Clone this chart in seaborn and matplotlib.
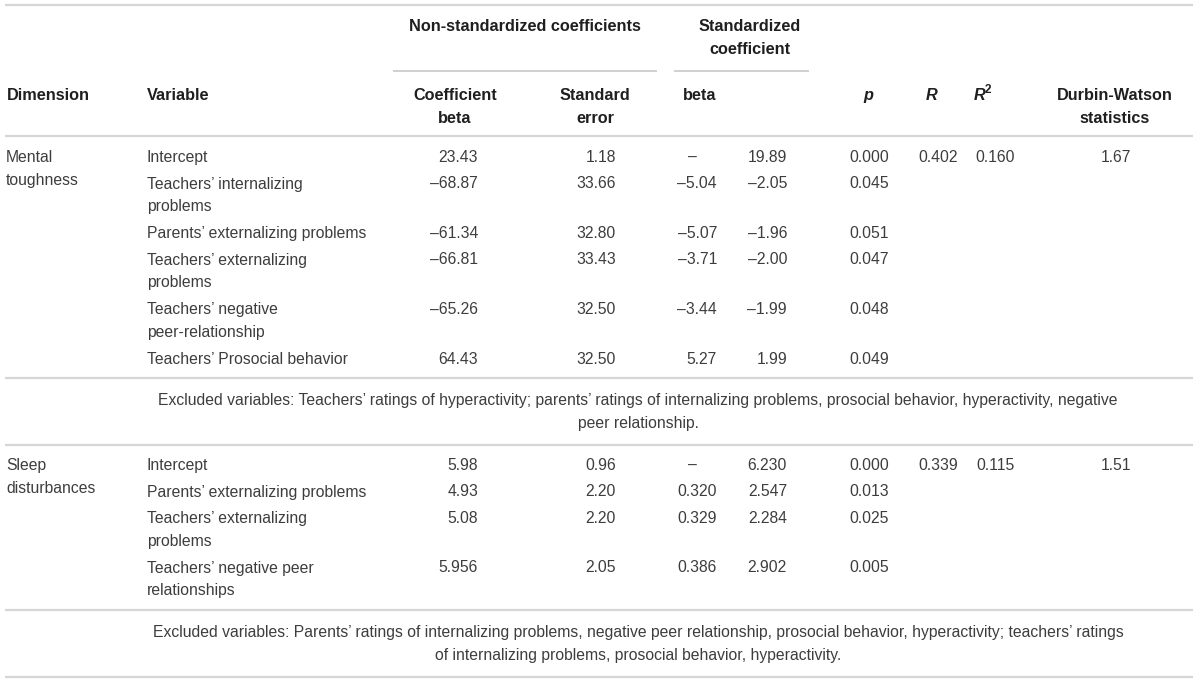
import matplotlib
matplotlib.use("Agg")
import matplotlib.pyplot as plt
import seaborn as sns

# ---------------- data ----------------
mental_dimension = ["Mental", "toughness"]
mental_vars = ["Intercept", "Teachers’ internalizing\nproblems", "Parents’ externalizing problems",
               "Teachers’ externalizing\nproblems", "Teachers’ negative\npeer-relationship",
               "Teachers’ Prosocial behavior"]
mental_coef = ["23.43", "–68.87", "–61.34", "–66.81", "–65.26", "64.43"]
mental_se = ["1.18", "33.66", "32.80", "33.43", "32.50", "32.50"]
mental_beta = ["–", "–5.04", "–5.07", "–3.71", "–3.44", "5.27"]
mental_t = ["19.89", "–2.05", "–1.96", "–2.00", "–1.99", "1.99"]
mental_p = ["0.000", "0.045", "0.051", "0.047", "0.048", "0.049"]
mental_R, mental_R2, mental_DW = "0.402", "0.160", "1.67"
mental_excluded = ["Excluded variables: Teachers’ ratings of hyperactivity; parents’ ratings of internalizing problems, prosocial behavior, hyperactivity, negative",
                   "peer relationship."]

sleep_dimension = ["Sleep", "disturbances"]
sleep_vars = ["Intercept", "Parents’ externalizing problems", "Teachers’ externalizing\nproblems",
              "Teachers’ negative peer\nrelationships"]
sleep_coef = ["5.98", "4.93", "5.08", "5.956"]
sleep_se = ["0.96", "2.20", "2.20", "2.05"]
sleep_beta = ["–", "0.320", "0.329", "0.386"]
sleep_t = ["6.230", "2.547", "2.284", "2.902"]
sleep_p = ["0.000", "0.013", "0.025", "0.005"]
sleep_R, sleep_R2, sleep_DW = "0.339", "0.115", "1.51"
sleep_excluded = ["Excluded variables: Parents’ ratings of internalizing problems, negative peer relationship, prosocial behavior, hyperactivity; teachers’ ratings",
                  "of internalizing problems, prosocial behavior, hyperactivity."]

# ---------------- style ----------------
sns.set_theme(style="white")
plt.rcParams['font.family'] = ['Liberation Sans', 'DejaVu Sans']

FS = 11.3
FS_HEAD = 11.7
BODY = "#3d3d3d"
HEAD = "#1f1f1f"
RULE = "#d6d6d6"
LINE_H = 23

fig = plt.figure(figsize=(12, 6.84), dpi=100)
ax = fig.add_axes([0, 0, 1, 1])
ax.set_xlim(0, 1200)
ax.set_ylim(684, 0)
ax.axis("off")


def txt(x, y, s, ha="left", bold=False, italic=False, color=None, size=None):
    if size is None:
        size = FS_HEAD if bold else FS
    ax.text(x, y + 5, s, ha=ha, va="baseline", fontsize=size,
            fontweight="bold" if bold else "normal",
            fontstyle="italic" if italic else "normal",
            color=color or (HEAD if bold else BODY))


def multiline(x, y, s, **kw):
    for i, line in enumerate(s.split("\n")):
        txt(x, y + i * LINE_H, line, **kw)


# rules
X0, X1 = 5, 1193
for yy in [5, 136, 378, 445, 610, 677]:
    ax.hlines(yy, X0, X1, color=RULE, lw=1.6)
ax.hlines(71, 393, 657, color="#c4c4c4", lw=1.1)
ax.hlines(71, 674, 809, color="#c4c4c4", lw=1.1)

# header
txt(525, 26, "Non-standardized coefficients", ha="center", bold=True)
multiline(750, 26, "Standardized\ncoefficient", ha="center", bold=True)
txt(7, 95, "Dimension", bold=True)
txt(147, 95, "Variable", bold=True)
multiline(455, 95, "Coefficient\nbeta", ha="center", bold=True)
multiline(595, 95, "Standard\nerror", ha="center", bold=True)
txt(683, 95, "beta", bold=True)
txt(868, 95, "p", ha="center", bold=True, italic=True)
txt(932, 95, "R", ha="center", bold=True, italic=True)
txt(974, 95, "R", bold=True, italic=True)
ax.text(985, 93, "2", ha="left", va="baseline", fontsize=FS_HEAD * 0.72, fontweight="bold", color=HEAD)
multiline(1115, 95, "Durbin-Watson\nstatistics", ha="center", bold=True)

# column anchors (right edges)
COL_COEF, COL_SE, COL_BETA, COL_T, COL_P, COL_R, COL_R2, COL_DW = 478, 616, 717, 787, 889, 958, 1015, 1131


def block(y0, dim, vars_, coef, se, beta, t, p, R, R2, DW):
    multiline(6, y0, "\n".join(dim))
    y = y0
    for i, v in enumerate(vars_):
        multiline(147, y, v)
        txt(COL_COEF, y, coef[i], ha="right")
        txt(COL_SE, y, se[i], ha="right")
        if beta[i] == "–":
            txt(692, y, beta[i], ha="center")
        else:
            txt(COL_BETA, y, beta[i], ha="right")
        txt(COL_T, y, t[i], ha="right")
        txt(COL_P, y, p[i], ha="right")
        if i == 0:
            txt(COL_R, y, R, ha="right")
            txt(COL_R2, y, R2, ha="right")
            txt(COL_DW, y, DW, ha="right")
        nlines = v.count("\n") + 1
        y += 26.5 if nlines == 1 else 49.5


block(157, mental_dimension, mental_vars, mental_coef, mental_se, mental_beta,
      mental_t, mental_p, mental_R, mental_R2, mental_DW)
multiline(638, 400, "\n".join(mental_excluded), ha="center")

block(465, sleep_dimension, sleep_vars, sleep_coef, sleep_se, sleep_beta,
      sleep_t, sleep_p, sleep_R, sleep_R2, sleep_DW)
multiline(638, 632, "\n".join(sleep_excluded), ha="center")

fig.savefig("out.png", dpi=100, facecolor="white")
